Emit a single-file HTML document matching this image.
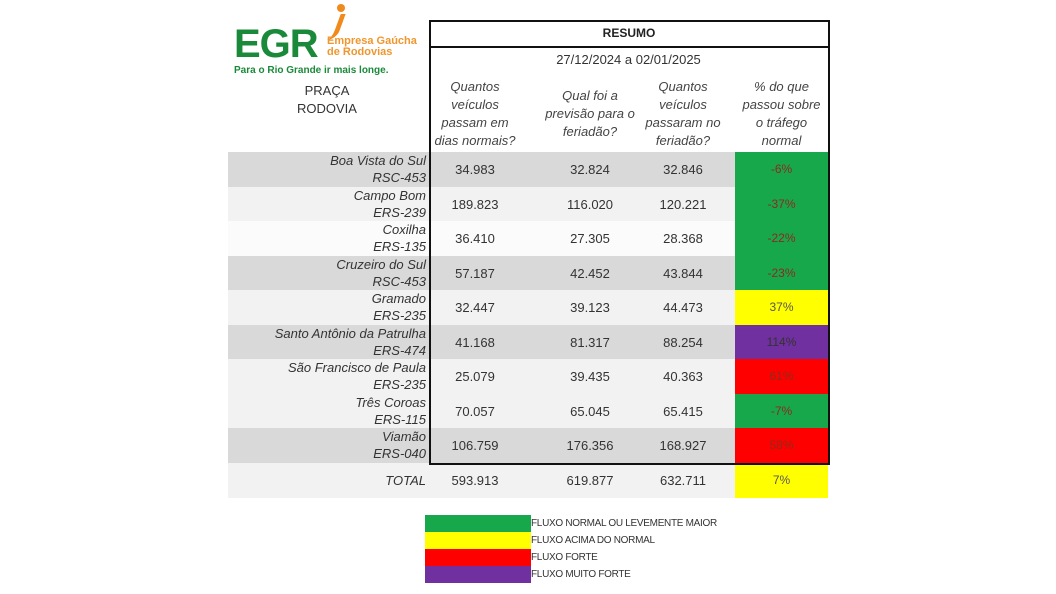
<!DOCTYPE html>
<html><head><meta charset="utf-8"><style>
body{margin:0;width:1056px;height:594px;background:#fff;position:relative;overflow:hidden;font-family:"Liberation Sans",sans-serif;}
.a{position:absolute}
.row{position:absolute;left:228px;width:507px;height:35px}
.lbl{position:absolute;left:228px;width:198px;text-align:right;font-style:italic;font-size:13px;color:#333;line-height:17px}
.n{position:absolute;font-size:13px;color:#333;text-align:center;width:110px;line-height:35px}
.p{position:absolute;left:735px;width:93px;height:35px;text-align:center;line-height:35px;font-size:12px;color:#8a2c1c}
.h{position:absolute;text-align:center;font-style:italic;font-size:13px;color:#444;line-height:18px}
.lg{position:absolute;left:425px;width:106px;height:17px}
.lt{position:absolute;left:531px;font-size:10px;color:#333;line-height:17px;letter-spacing:-0.3px}
</style></head><body>
<!-- logo -->
<div class="a" style="left:234px;top:22px;font-size:40px;font-weight:bold;color:#1a8a3a;letter-spacing:-1px;line-height:44px">EGR</div>
<div class="a" style="left:337px;top:4px;width:8px;height:8px;border-radius:50%;background:#f08a1c"></div>
<div class="a" style="left:326px;top:14px;width:10px;height:26px;border-right:5px solid #f08a1c;border-radius:0 0 10px 0;transform:skewX(-20deg)"></div>
<div class="a" style="left:327px;top:36px;font-size:11px;font-weight:bold;color:#f0962e;line-height:11px">Empresa Gaúcha<br>de Rodovias</div>
<div class="a" style="left:234px;top:65px;font-size:10px;font-weight:bold;color:#1a8a3a">Para o Rio Grande ir mais longe.</div>
<div class="a" style="left:228px;top:82px;width:198px;text-align:center;font-size:13px;color:#333;line-height:18px">PRAÇA<br>RODOVIA</div>
<!-- header -->
<div class="a" style="left:429px;top:47px;width:399px;text-align:center;font-size:13px;color:#333;line-height:26px">27/12/2024 a 02/01/2025</div>
<div class="h" style="left:429px;top:78px;width:92px">Quantos<br>veículos<br>passam em<br>dias normais?</div>
<div class="h" style="left:530px;top:87px;width:120px">Qual foi a<br>previsão para o<br>feriadão?</div>
<div class="h" style="left:630px;top:78px;width:106px">Quantos<br>veículos<br>passaram no<br>feriadão?</div>
<div class="h" style="left:735px;top:78px;width:93px">% do que<br>passou sobre<br>o tráfego<br>normal</div>

<div class="row" style="top:152px;background:#d9d9d9"></div>
<div class="row" style="top:187px;background:#f2f2f2"></div>
<div class="row" style="top:221px;background:#fbfbfb"></div>
<div class="row" style="top:256px;background:#d9d9d9"></div>
<div class="row" style="top:290px;background:#f2f2f2"></div>
<div class="row" style="top:325px;background:#d9d9d9"></div>
<div class="row" style="top:359px;background:#f2f2f2"></div>
<div class="row" style="top:394px;background:#f2f2f2"></div>
<div class="row" style="top:428px;background:#d9d9d9"></div>
<div class="row" style="top:463px;background:#f2f2f2;height:35px"></div>

<div class="p" style="top:152px;height:139px;background:#18a84c"></div>
<div class="p" style="top:290px;background:#ffff00"></div>
<div class="p" style="top:325px;background:#7030a0"></div>
<div class="p" style="top:359px;background:#ff0000"></div>
<div class="p" style="top:394px;background:#18a84c"></div>
<div class="p" style="top:428px;background:#ff0000"></div>
<div class="p" style="top:463px;background:#ffff00"></div>

<div class="p" style="top:152px;background:none">-6%</div>
<div class="p" style="top:187px;background:none">-37%</div>
<div class="p" style="top:221px;background:none">-22%</div>
<div class="p" style="top:256px;background:none">-23%</div>
<div class="p" style="top:290px;background:none;color:#555">37%</div>
<div class="p" style="top:325px;background:none;color:#333">114%</div>
<div class="p" style="top:359px;background:none">61%</div>
<div class="p" style="top:394px;background:none">-7%</div>
<div class="p" style="top:428px;background:none">58%</div>
<div class="p" style="top:463px;background:none;color:#555">7%</div>

<div class="lbl" style="top:152px">Boa Vista do Sul<br>RSC-453</div>
<div class="lbl" style="top:187px">Campo Bom<br>ERS-239</div>
<div class="lbl" style="top:221px">Coxilha<br>ERS-135</div>
<div class="lbl" style="top:256px">Cruzeiro do Sul<br>RSC-453</div>
<div class="lbl" style="top:290px">Gramado<br>ERS-235</div>
<div class="lbl" style="top:325px">Santo Antônio da Patrulha<br>ERS-474</div>
<div class="lbl" style="top:359px">São Francisco de Paula<br>ERS-235</div>
<div class="lbl" style="top:394px">Três Coroas<br>ERS-115</div>
<div class="lbl" style="top:428px">Viamão<br>ERS-040</div>
<div class="lbl" style="top:463px;line-height:35px">TOTAL</div>

<div class="n" style="left:420px;top:152px">34.983</div><div class="n" style="left:535px;top:152px">32.824</div><div class="n" style="left:628px;top:152px">32.846</div>
<div class="n" style="left:420px;top:187px">189.823</div><div class="n" style="left:535px;top:187px">116.020</div><div class="n" style="left:628px;top:187px">120.221</div>
<div class="n" style="left:420px;top:221px">36.410</div><div class="n" style="left:535px;top:221px">27.305</div><div class="n" style="left:628px;top:221px">28.368</div>
<div class="n" style="left:420px;top:256px">57.187</div><div class="n" style="left:535px;top:256px">42.452</div><div class="n" style="left:628px;top:256px">43.844</div>
<div class="n" style="left:420px;top:290px">32.447</div><div class="n" style="left:535px;top:290px">39.123</div><div class="n" style="left:628px;top:290px">44.473</div>
<div class="n" style="left:420px;top:325px">41.168</div><div class="n" style="left:535px;top:325px">81.317</div><div class="n" style="left:628px;top:325px">88.254</div>
<div class="n" style="left:420px;top:359px">25.079</div><div class="n" style="left:535px;top:359px">39.435</div><div class="n" style="left:628px;top:359px">40.363</div>
<div class="n" style="left:420px;top:394px">70.057</div><div class="n" style="left:535px;top:394px">65.045</div><div class="n" style="left:628px;top:394px">65.415</div>
<div class="n" style="left:420px;top:428px">106.759</div><div class="n" style="left:535px;top:428px">176.356</div><div class="n" style="left:628px;top:428px">168.927</div>
<div class="n" style="left:420px;top:463px">593.913</div><div class="n" style="left:535px;top:463px">619.877</div><div class="n" style="left:628px;top:463px">632.711</div>

<!-- box -->
<div class="a" style="left:429px;top:20px;width:397px;height:441px;border:2px solid #111"></div>
<div class="a" style="left:429px;top:46px;width:400px;height:2px;background:#111"></div>
<div class="a" style="left:429px;top:20px;width:400px;line-height:27px;text-align:center;font-size:12px;font-weight:bold;color:#222">RESUMO</div>

<!-- legend -->
<div class="lg" style="top:515px;background:#18a84c"></div>
<div class="lg" style="top:532px;background:#ffff00"></div>
<div class="lg" style="top:549px;background:#ff0000"></div>
<div class="lg" style="top:566px;background:#7030a0"></div>
<div class="lt" style="top:515px">FLUXO NORMAL OU LEVEMENTE MAIOR</div>
<div class="lt" style="top:532px">FLUXO ACIMA DO NORMAL</div>
<div class="lt" style="top:549px">FLUXO FORTE</div>
<div class="lt" style="top:566px">FLUXO MUITO FORTE</div>
</body></html>
